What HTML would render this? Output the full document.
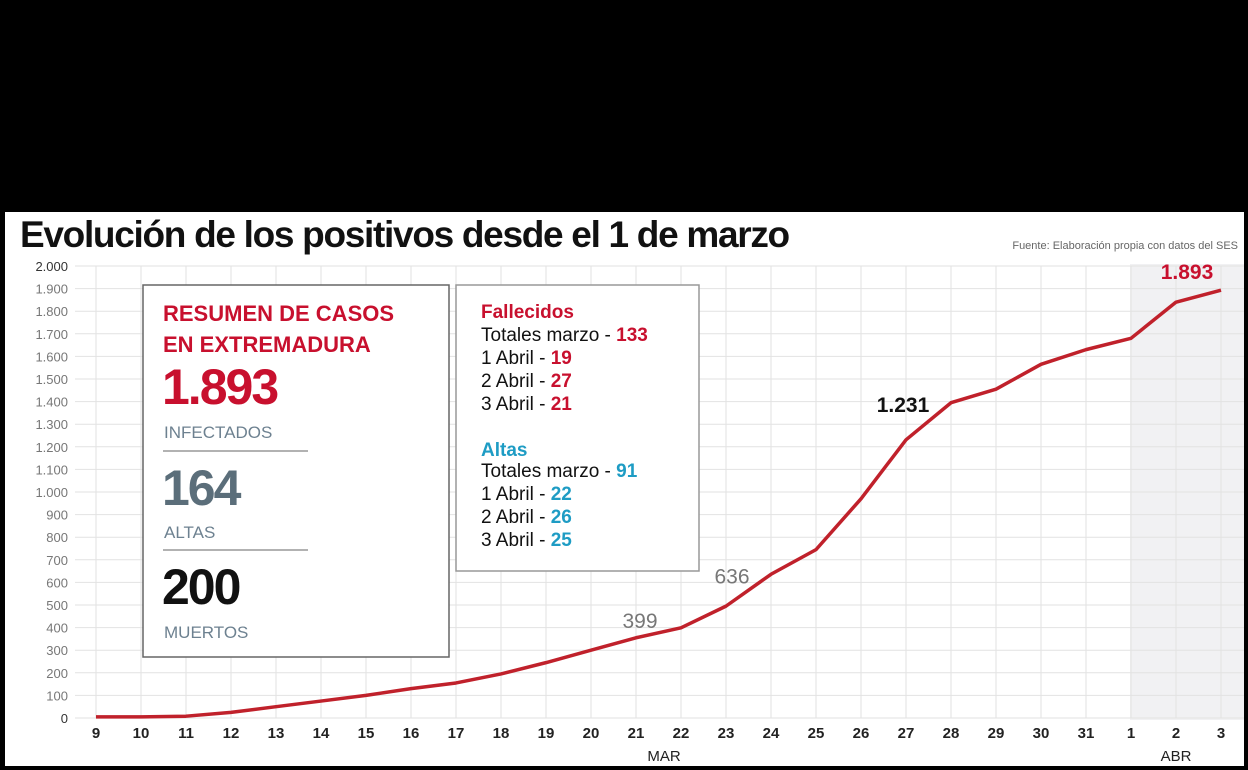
<!DOCTYPE html>
<html><head><meta charset="utf-8"><style>
html,body{margin:0;padding:0;background:#000;width:1248px;height:770px;overflow:hidden}
svg{display:block;font-family:"Liberation Sans",sans-serif}
</style></head><body>
<svg id="chart" width="1248" height="770">
<rect x="0" y="0" width="1248" height="770" fill="#000"/>
<rect x="5" y="212" width="1239" height="554" fill="#fff"/>
<rect x="1130" y="264" width="114" height="456" fill="#f1f1f3"/>
<g id="grid"></g>
<text x="20" y="247" font-size="37" font-weight="bold" fill="#111" letter-spacing="-1.3">Evolución de los positivos desde el 1 de marzo</text>
<text x="1238" y="249" font-size="11" fill="#666" text-anchor="end">Fuente: Elaboración propia con datos del SES</text>
<g id="yaxis"></g>
<g id="xaxis"></g>
<text x="664" y="761" font-size="15" fill="#222" text-anchor="middle">MAR</text>
<text x="1176" y="761" font-size="15" fill="#222" text-anchor="middle">ABR</text>
<path id="line" fill="none" stroke="#c0212b" stroke-width="3.5" stroke-linejoin="round"/>
<g id="annots"></g>

<g>
<rect x="143" y="285" width="306" height="372" fill="#fff" stroke="#666" stroke-width="1.5"/>
<text x="163" y="321" font-size="22" font-weight="bold" fill="#c8102e">RESUMEN DE CASOS</text>
<text x="163" y="352" font-size="22" font-weight="bold" fill="#c8102e">EN EXTREMADURA</text>
<text x="162" y="404" font-size="50" font-weight="bold" fill="#c8102e" letter-spacing="-2">1.893</text>
<text x="164" y="438" font-size="17" fill="#6d8190">INFECTADOS</text>
<line x1="163" y1="451" x2="308" y2="451" stroke="#999" stroke-width="1.5"/>
<text x="162" y="505" font-size="50" font-weight="bold" fill="#5b6e7a" letter-spacing="-2">164</text>
<text x="164" y="538" font-size="17" fill="#6d8190">ALTAS</text>
<line x1="163" y1="550" x2="308" y2="550" stroke="#999" stroke-width="1.5"/>
<text x="162" y="604" font-size="50" font-weight="bold" fill="#111" letter-spacing="-2">200</text>
<text x="164" y="638" font-size="17" fill="#6d8190">MUERTOS</text>
</g>

<g font-size="19" fill="#111">
<rect x="456" y="285" width="243" height="286" fill="#fff" stroke="#999" stroke-width="1.5"/>
<text x="481" y="318" font-weight="bold" fill="#c8102e">Fallecidos</text>
<text x="481" y="341">Totales marzo - <tspan fill="#c8102e" font-weight="bold">133</tspan></text>
<text x="481" y="364">1 Abril - <tspan fill="#c8102e" font-weight="bold">19</tspan></text>
<text x="481" y="387">2 Abril - <tspan fill="#c8102e" font-weight="bold">27</tspan></text>
<text x="481" y="410">3 Abril - <tspan fill="#c8102e" font-weight="bold">21</tspan></text>
<text x="481" y="456" font-weight="bold" fill="#1e9cc4">Altas</text>
<text x="481" y="477">Totales marzo - <tspan fill="#1e9cc4" font-weight="bold">91</tspan></text>
<text x="481" y="500">1 Abril - <tspan fill="#1e9cc4" font-weight="bold">22</tspan></text>
<text x="481" y="523">2 Abril - <tspan fill="#1e9cc4" font-weight="bold">26</tspan></text>
<text x="481" y="546">3 Abril - <tspan fill="#1e9cc4" font-weight="bold">25</tspan></text>
</g>
</svg>
<script>
const days = ["9","10","11","12","13","14","15","16","17","18","19","20","21","22","23","24","25","26","27","28","29","30","31","1","2","3"];
const positives = [5,5,8,25,50,75,100,130,155,195,245,300,355,399,495,636,745,970,1231,1395,1455,1565,1630,1680,1840,1893];
const yTicks = [0,100,200,300,400,500,600,700,800,900,1000,1100,1200,1300,1400,1500,1600,1700,1800,1900,2000];
const yTickLabels = ["0","100","200","300","400","500","600","700","800","900","1.000","1.100","1.200","1.300","1.400","1.500","1.600","1.700","1.800","1.900","2.000"];
const labelIdx = [13,15,18,25];
const labelText = ["399","636","1.231","1.893"];

const NS="http://www.w3.org/2000/svg";
const x0=96, dx=45, yBase=718, yTop=266, yMax=2000;
const X=i=>x0+i*dx;
const Y=v=>yBase-(v/yMax)*(yBase-yTop);
function mk(tag,attrs,parent){const e=document.createElementNS(NS,tag);for(const k in attrs)e.setAttribute(k,attrs[k]);parent.appendChild(e);return e;}
const grid=document.getElementById('grid'), ya=document.getElementById('yaxis'), xa=document.getElementById('xaxis'), an=document.getElementById('annots');
yTicks.forEach((v,i)=>{
  const l=mk('line',{x1:75,x2:1244,y1:Y(v),y2:Y(v),stroke:'#e2e2e2','stroke-width':1},grid);
  
  
  const t=mk('text',{x:68,y:Y(v)+5,'font-size':13,fill:i==0||i==20?'#333':'#777','text-anchor':'end'},ya);
  t.textContent=yTickLabels[i];
  
  
});
days.forEach((d,i)=>{
  const l=mk('line',{x1:X(i),x2:X(i),y1:yTop,y2:yBase,stroke:'#e2e2e2','stroke-width':1},grid);
  
  
  const t=mk('text',{x:X(i),y:738,'font-size':15,'font-weight':'bold',fill:'#222','text-anchor':'middle'},xa);
  t.textContent=d;
  
  
});
document.getElementById('line').setAttribute('d',positives.map((v,i)=>(i?'L':'M')+X(i)+' '+Y(v)).join(' '));
const styles=[{fill:'#777',fw:'normal',dx:-41,dy:0},{fill:'#777',fw:'normal',dx:-39,dy:9},{fill:'#111',fw:'bold',dx:-3,dy:-28},{fill:'#c8102e',fw:'bold',dx:-34,dy:-11}];
labelIdx.forEach((idx,k)=>{
  const s=styles[k];
  const t=mk('text',{x:X(idx)+s.dx,y:Y(positives[idx])+s.dy,'font-size':21,'font-weight':s.fw,fill:s.fill,'text-anchor':'middle'},an);
  t.textContent=labelText[k];
  
  
});
</script>
</body></html>
